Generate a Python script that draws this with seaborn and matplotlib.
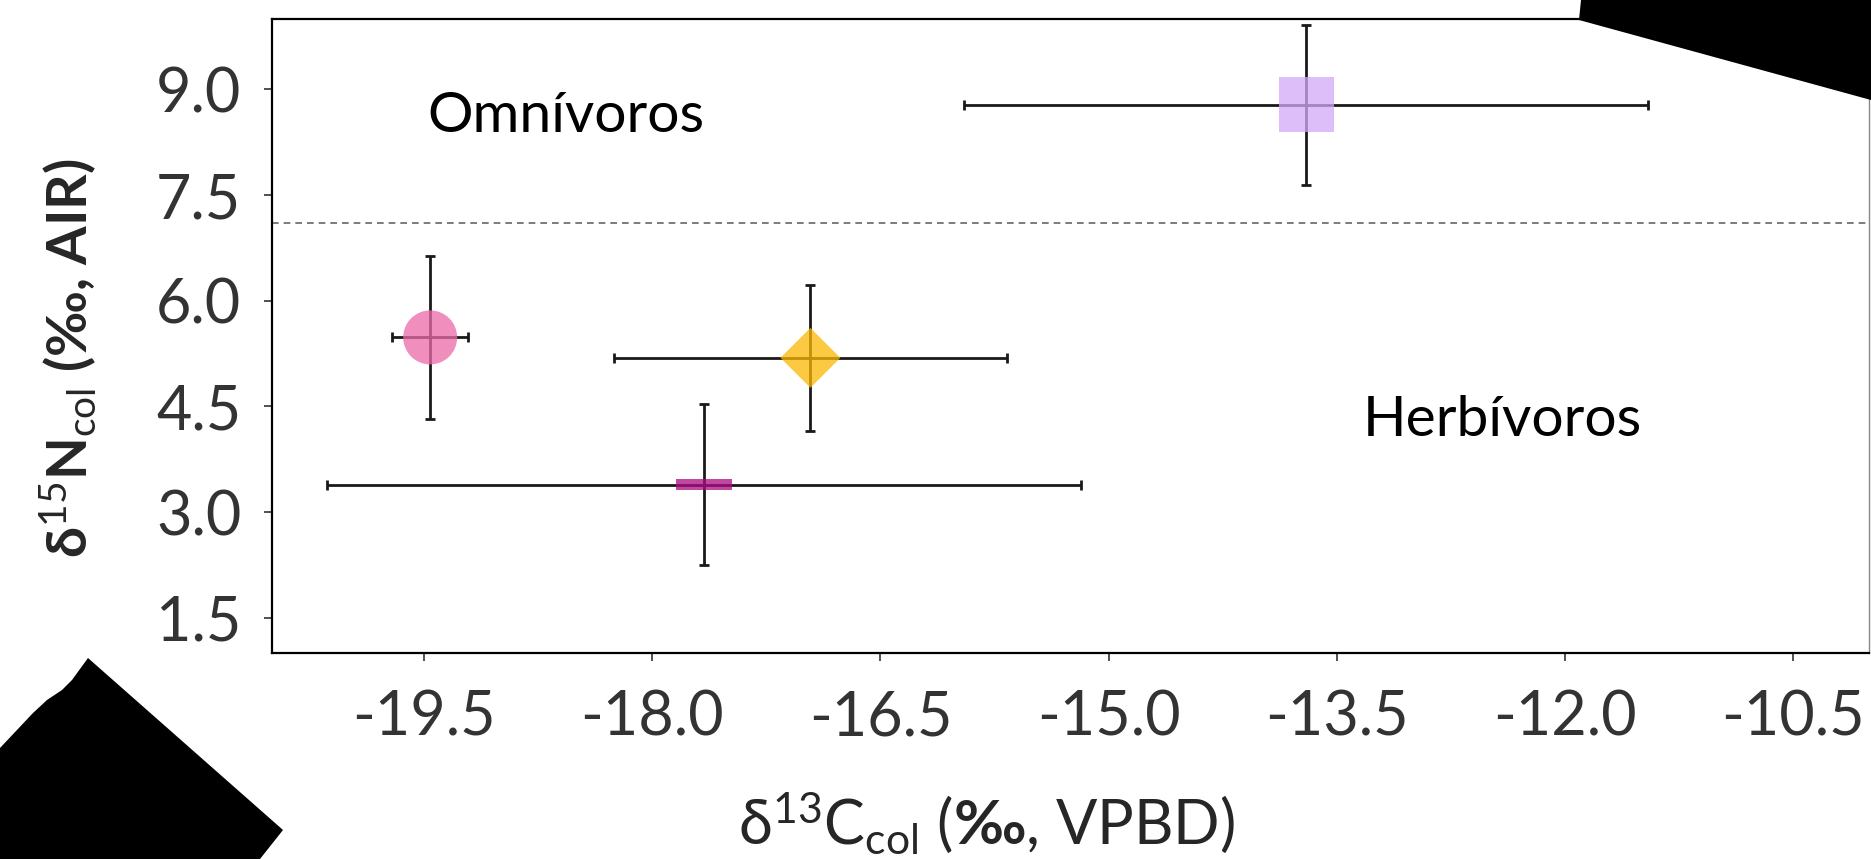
import matplotlib
matplotlib.use('Agg')
import matplotlib.pyplot as plt
from matplotlib.patches import Polygon
import seaborn as sns
import pandas as pd

# datos
grupos = ['g1', 'g2', 'g3', 'g4']
d13C = [-19.46, -16.96, -17.66, -13.70]
d15N = [5.48, 5.19, 3.39, 8.78]
err_C = [0.25, 1.29, 2.48, 2.25]
err_N = [1.16, 1.04, 1.14, 1.13]
colores = ['#ec6aa8', '#fcb702', '#ab0b80', '#d2a8f6']
marcadores = ['o', 'D', [(-1, -0.2), (1, -0.2), (1, 0.2), (-1, 0.2)], 's']
tamanos = [1513, 930, 1600, 1568]

limite_omnivoro = 7.1
xticks = [-19.5, -18.0, -16.5, -15.0, -13.5, -12.0, -10.5]
yticks = [1.5, 3.0, 4.5, 6.0, 7.5, 9.0]

df = pd.DataFrame({'grupo': grupos, 'd13C': d13C, 'd15N': d15N})

sns.set_style('ticks')
plt.rcParams['font.family'] = ['Lato', 'DejaVu Sans']
plt.rcParams['axes.unicode_minus'] = False
plt.rcParams['mathtext.fontset'] = 'custom'
plt.rcParams['mathtext.rm'] = 'Lato'
plt.rcParams['mathtext.it'] = 'Lato:italic'
plt.rcParams['mathtext.bf'] = 'Lato:bold'

W, H = 1871, 859
fig = plt.figure(figsize=(W / 100, H / 100), dpi=100)
ax = fig.add_axes([272 / W, 1 - 653 / H, (1869 - 272) / W, (653 - 19) / H])

ax.axhline(limite_omnivoro, color='#666666', lw=1.2, ls=(0, (4, 3)), zorder=1)

ax.errorbar(df['d13C'], df['d15N'], xerr=err_C, yerr=err_N, fmt='none',
            ecolor='#1a1a1a', elinewidth=2.0, capsize=3.6, capthick=2.0, zorder=2)

sns.scatterplot(data=df, x='d13C', y='d15N', hue='grupo', style='grupo', size='grupo',
                palette=dict(zip(grupos, colores)),
                markers=dict(zip(grupos, marcadores)),
                sizes=dict(zip(grupos, tamanos)),
                alpha=0.75, linewidth=0, legend=False, ax=ax, zorder=3)

ax.text(-19.48, 8.61, 'Omnívoros', fontsize=41, va='center', ha='left', color='black')
ax.text(-13.33, 4.30, 'Herbívoros', fontsize=41, va='center', ha='left', color='black')

ax.set_xlim(-20.5, -10.0)
ax.set_ylim(1.0, 10.0)
ax.set_xticks(xticks)
ax.set_xticklabels([f'{v:.1f}' for v in xticks])
ax.set_yticks(yticks)
ax.set_yticklabels([f'{v:.1f}' for v in yticks])
ax.tick_params(axis='both', labelsize=44, labelcolor='#333333', color='#333333',
               length=6, width=1.2)
ax.tick_params(axis='y', pad=16)
ax.tick_params(axis='x', pad=20)

for lado in ['left', 'top', 'bottom']:
    ax.spines[lado].set_color('black')
    ax.spines[lado].set_linewidth(1.6)
ax.spines['right'].set_color('#888888')
ax.spines['right'].set_linewidth(1.0)

ax.set_xlabel(r'δ$^{\mathrm{13}}$C$_{\mathrm{col}}$ ($\mathbf{‰}$, VPBD)', fontsize=44,
              va='center', ha='center')
ax.xaxis.set_label_coords((986 - 272) / 1597, (653 - 823) / 634)
ax.set_ylabel(r'δ$^{\mathrm{15}}$N$_{\mathrm{col}}$ ($\mathbf{‰}$, AIR)', fontsize=40,
              fontweight='bold', va='center', ha='center')
ax.yaxis.set_label_coords((68 - 272) / 1597, (653 - 358) / 634)

# manchas negras de las esquinas del recorte original
esquina_sup = [(1581, 0), (1579, 20), (1871, 100), (1871, 0)]
esquina_inf = [(0, 748), (33, 713), (47, 700), (62, 690), (72, 680), (88, 658),
               (283, 830), (260, 859), (0, 859)]
for pts in [esquina_sup, esquina_inf]:
    fig.patches.append(Polygon([(x / W, 1 - y / H) for x, y in pts], closed=True,
                               facecolor='black', edgecolor='none',
                               transform=fig.transFigure, figure=fig, zorder=10))

fig.savefig('out.png', dpi=100)
